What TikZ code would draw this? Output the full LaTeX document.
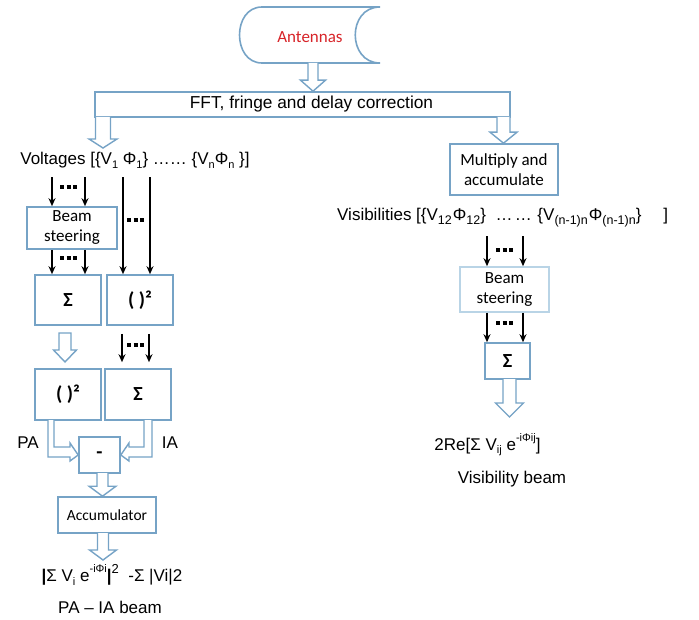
\documentclass[tikz,border=0pt]{standalone}
\usepackage{fontspec}
\setmainfont{Liberation Sans}
\newfontfamily\carl{Carlito}
\usetikzlibrary{arrows.meta,calc}
\definecolor{bx}{RGB}{118,163,198}
\definecolor{bxl}{RGB}{185,212,230}
\definecolor{antred}{RGB}{215,35,40}
\newcommand\sbs[1]{\raisebox{-0.22em}{\fontsize{11}{11}\selectfont #1}}
\newcommand\sbb[1]{\raisebox{-0.22em}{\fontsize{12.5}{12}\selectfont #1}}
\newcommand\sps[1]{\raisebox{0.5em}{\fontsize{11}{11}\selectfont #1}}
% hollow down arrow: start, tip, shaft half width, head half width, head length
\newcommand\hdown[5]{\draw[harrow] let \p1=(#1), \p2=(#2) in
  ({\x1-#3},\y1) -- ({\x1-#3},{\y2+#5}) -- ({\x1-#4},{\y2+#5}) -- (\x1,\y2) --
  ({\x1+#4},{\y2+#5}) -- ({\x1+#3},{\y2+#5}) -- ({\x1+#3},\y1);}
\newcommand\hdownc[5]{\draw[harrow] let \p1=(#1), \p2=(#2) in
  ({\x1-#3},\y1) -- ({\x1-#3},{\y2+#5}) -- ({\x1-#4},{\y2+#5}) -- (\x1,\y2) --
  ({\x1+#4},{\y2+#5}) -- ({\x1+#3},{\y2+#5}) -- ({\x1+#3},\y1) -- cycle;}
\begin{document}
\begin{tikzpicture}[x=1pt,y=-1pt,
  box/.style={draw=bx, line width=1.6pt, fill=white, inner sep=0pt,
    font=\carl\fontsize{17}{20}\selectfont, align=center},
  bbox/.style={box, font=\carl\bfseries\fontsize{20}{22}\selectfont},
  lab/.style={inner sep=0pt, font=\fontsize{17}{20}\selectfont},
  harrow/.style={draw=bx, line width=1.4pt, fill=white, line join=miter},
  bar/.style={draw=black, line width=1.5pt, -{Stealth[length=8pt,width=7pt]}},
  dotrow/.style={line width=4pt, dash pattern=on 4pt off 2.5pt}]
\useasboundingbox (0,0) rectangle (699,620);

% antennas
\draw[draw=bx, line width=1.6pt] (262,7) -- (380,7) .. controls (347,7) and (347,63) .. (380,63)
  -- (262,63) .. controls (232,63) and (232,7) .. (262,7) -- cycle;
\node[lab, text=antred, font=\carl\fontsize{17}{20}\selectfont] (ant) at (310,37) {Antennas};

% FFT bar
\node[box, minimum width=415pt, minimum height=25pt] (fft) at (302.5,104.5) {};
\node[lab, font=\fontsize{17.3}{20}\selectfont] (fftt) at (311.5,104) {FFT, fringe and delay correction};

% texts
\node[lab] (volt) at (135,160) {Voltages [\{V\sbs{1} Φ\sbs{1}\} …… \{V\sbs{n}Φ\sbs{n} \}]};
\node[box, minimum width=108pt, minimum height=51pt] (mult) at (504,169.5) {Multiply and\\accumulate};
\node[lab, anchor=west] (vis) at (337,218) {Visibilities [\{V\sbb{12}\hspace{1pt}Φ\sbb{12}\}\hspace{5pt} …\hspace{2pt}… \hspace{1pt}\{V\sbb{(n-1)n}\hspace{1pt}Φ\sbb{(n-1)n}\}\hspace{22pt}]};

% left column boxes
\node[box, minimum width=90pt, minimum height=42pt] (bs1) at (72,228) {Beam\\steering};
\node[bbox, minimum width=66pt, minimum height=50pt] (sig1) at (68,300) {Σ};
\node[bbox, minimum width=66pt, minimum height=50pt] (sq1) at (140,300) {( )²};
\node[bbox, minimum width=66pt, minimum height=51pt] (sq2) at (68,394.5) {( )²};
\node[bbox, minimum width=66pt, minimum height=51pt] (sig2) at (138,394.5) {Σ};
\node[bbox, minimum width=41pt, minimum height=36pt] (minus) at (99.5,455) {-};
\node[box, minimum width=98pt, minimum height=36pt, font=\carl\fontsize{15.5}{18}\selectfont] (acc) at (107,515) {Accumulator};
\node[lab] (pa) at (28,443) {PA};
\node[lab] (ia) at (170,443) {IA};
\node[lab] (form) at (112,575) {\textbf{|}Σ V\sbs{i} e\sps{-iΦi}\textbf{|}\raisebox{0.45em}{\fontsize{13}{13}\selectfont 2}\ \ -Σ |Vi|2};
\node[lab] (pabeam) at (110,607) {PA – IA beam};

% right column boxes
\node[box, draw=bxl, minimum width=89pt, minimum height=45pt] (bs2) at (504.5,289.5) {Beam\\steering};
\node[bbox, minimum width=45pt, minimum height=36pt] (sig3) at (507.5,361) {Σ};
\node[lab] (re) at (487.5,445) {2Re[Σ V\sbs{ij} e\sps{-iΦij}]};
\node[lab] (visbeam) at (512,479) {Visibility beam};

% hollow arrows
\coordinate (h1) at (313,63);
\hdown{h1}{h1|-fft.north}{5pt}{12.5pt}{11pt}
\coordinate (h2) at (103,117);
\coordinate (h2t) at (103,148);
\hdown{h2}{h2t}{7.5pt}{14pt}{9pt}
\coordinate (h3) at (503.5,117);
\hdown{h3}{h3|-mult.north}{6.5pt}{13.5pt}{11pt}
\coordinate (h4) at (65,333);
\coordinate (h4t) at (65,362);
\hdownc{h4}{h4t}{6pt}{11.5pt}{12pt}
\coordinate (h6) at (102.5,473);
\hdown{h6}{h6|-acc.north}{5.5pt}{13.5pt}{10pt}
\coordinate (h7) at (103,533);
\coordinate (h7t) at (103,560);
\hdown{h7}{h7t}{5.5pt}{13.5pt}{10pt}
\coordinate (h8) at (509.5,379);
\coordinate (h8t) at (509.5,417);
\hdown{h8}{h8t}{6.5pt}{14pt}{14pt}

% elbow hollow arrows into minus box
\draw[harrow] (48,420) -- (48,457) -- (70,457) -- (70,461) -- (minus.west) -- (70,443) -- (70,447) -- (54,447) -- (54,420);
\draw[harrow] (152,420) -- (152,457) -- (129,457) -- (129,461) -- (minus.east) -- (129,443) -- (129,447) -- (144,447) -- (144,420);

% black arrows, left
\draw[bar] ($(bs1.north)+(-20,-29)$) -- ($(bs1.north)+(-20,0)$);
\draw[bar] ($(bs1.north)+(13,-29)$) -- ($(bs1.north)+(13,0)$);
\draw[dotrow] (60,187) -- (78,187);
\draw[bar] ($(bs1.south)+(-20,0)$) -- ($(sig1.north)+(-16,0)$);
\draw[bar] ($(bs1.south)+(13,0)$) -- ($(sig1.north)+(17,0)$);
\draw[dotrow] (60,258) -- (78,258);
\draw[bar] ($(sq1.north)+(-17,-97)$) -- ($(sq1.north)+(-17,0)$);
\draw[bar] ($(sq1.north)+(10,-97)$) -- ($(sq1.north)+(10,0)$);
\draw[dotrow] (127,220) -- (145,220);
\draw[bar] ($(sq1.south)+(-18,8)$) -- ($(sig2.north)+(-16,-6)$);
\draw[bar] ($(sq1.south)+(9,8)$) -- ($(sig2.north)+(11,-6)$);
\draw[dotrow] (127,345) -- (145,345);

% black arrows, right
\draw[bar] ($(bs2.north)+(-17.5,-30)$) -- ($(bs2.north)+(-17.5,0)$);
\draw[bar] ($(bs2.north)+(18.5,-30)$) -- ($(bs2.north)+(18.5,0)$);
\draw[dotrow] (496,250) -- (514,250);
\draw[bar] ($(bs2.south)+(-17.5,0)$) -- ($(sig3.north)+(-20.5,0)$);
\draw[bar] ($(bs2.south)+(18.5,0)$) -- ($(sig3.north)+(15.5,0)$);
\draw[dotrow] (496,323) -- (514,323);
\end{tikzpicture}
\end{document}
